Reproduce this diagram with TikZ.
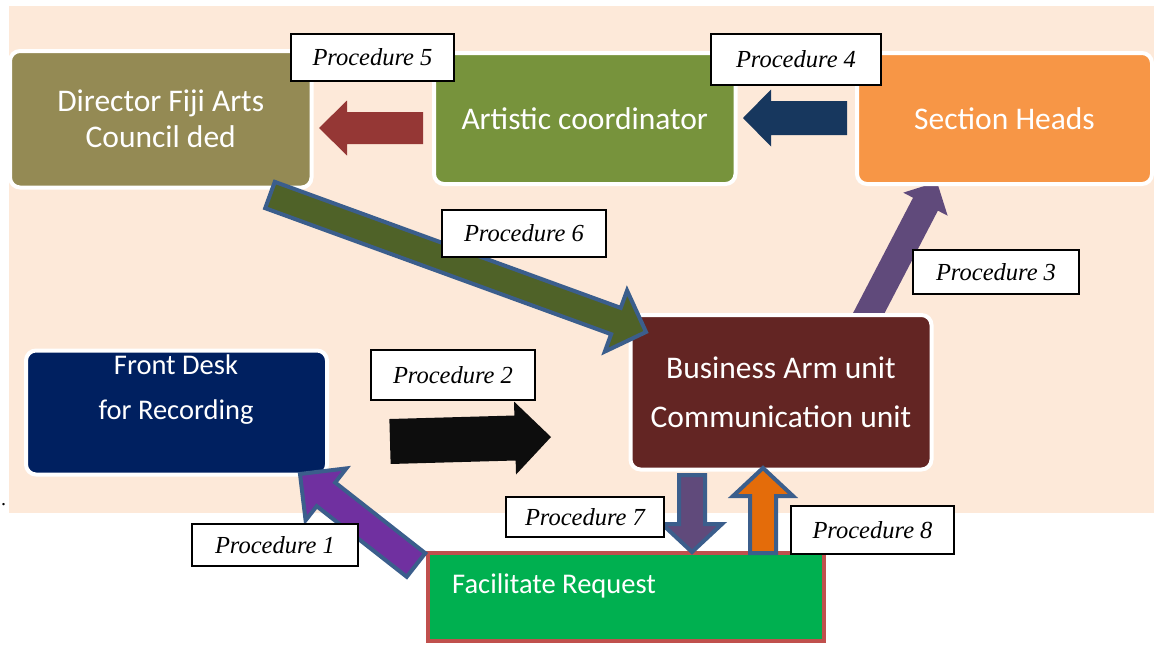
\documentclass[tikz,border=0pt]{standalone}
\usepackage{fontspec}
\setmainfont{Liberation Serif}
\newfontfamily\boxfont{Carlito}
\usetikzlibrary{calc}

\definecolor{peach}{HTML}{FDE9D9}
\definecolor{directorcol}{HTML}{948A54}
\definecolor{artisticcol}{HTML}{77933C}
\definecolor{sectioncol}{HTML}{F79646}
\definecolor{frontcol}{HTML}{002060}
\definecolor{businesscol}{HTML}{632523}
\definecolor{facilcol}{HTML}{00B050}
\definecolor{faciledge}{HTML}{C0504D}
\definecolor{arrowblue}{HTML}{3B5E8C}
\definecolor{redarrow}{HTML}{953735}
\definecolor{navyarrow}{HTML}{17375E}
\definecolor{olivearrow}{HTML}{4F6228}
\definecolor{plumarrow}{HTML}{604A7B}
\definecolor{violetarrow}{HTML}{7030A0}
\definecolor{blackarrow}{HTML}{0D0D0D}
\definecolor{orangearrow}{HTML}{E46C0A}

% block arrow: [style]{tail}{tip}{half shaft width}{half head width}{head length}
\newcommand\blockarrow[6][]{%
  \coordinate (ba-neck) at ($(#3)!#6!(#2)$);
  \path[#1] ($(#2)!#4!90:(#3)$) -- ($(ba-neck)!#4!90:(#3)$)
    -- ($(ba-neck)!#5!90:(#3)$) -- (#3)
    -- ($(ba-neck)!#5!-90:(#3)$) -- ($(ba-neck)!#4!-90:(#3)$)
    -- ($(#2)!#4!-90:(#3)$) -- cycle;
}

\tikzset{
  unitbox/.style={draw=white, line width=4pt, rounded corners=10pt, text=white,
    font=\boxfont\fontsize{31.5}{36}\selectfont, align=center, inner sep=0pt},
  proclabel/.style={draw=black, line width=1.8pt, fill=white,
    font=\itshape\fontsize{24.5}{27}\selectfont, inner sep=0pt},
  edged/.style={draw=arrowblue, line width=4pt, line join=miter},
}

\begin{document}
\begin{tikzpicture}[x=1pt, y=-1pt]
\useasboundingbox (0,0) rectangle (1154,645);

% backdrop
\fill[peach] (9,6) rectangle (1154,512.5);
\node[anchor=base west, inner sep=0pt, font=\fontsize{20}{20}\selectfont] (dot) at (1,505) {.};

% arrow that runs beneath the business unit box
\coordinate (a3tail) at (860,330);
\coordinate (a3tip) at (937,182);
\blockarrow[fill=plumarrow]{a3tail}{a3tip}{14pt}{25pt}{25pt}

% units
\node[unitbox, fill=directorcol, minimum width=301.5pt, minimum height=136.5pt]
  (director) at (160.75,119.25) {Director Fiji Arts\\Council ded};
\node[unitbox, fill=artisticcol, minimum width=301.5pt, minimum height=131pt]
  (artistic) at (584.75,118.5) {Artistic coordinator};
\node[unitbox, fill=sectioncol, minimum width=295pt, minimum height=131pt]
  (section) at (1004.5,118.5) {Section Heads};
\node[unitbox, fill=frontcol, minimum width=301pt, minimum height=124pt]
  (front) at (176.5,412.5) {};
\node[text=white, align=center, inner sep=0pt, font=\boxfont\fontsize{28.5}{45}\selectfont]
  (fronttext) at (176,390) {Front Desk\\for Recording};
\node[unitbox, fill=businesscol, minimum width=301pt, minimum height=154.5pt,
  font=\boxfont\fontsize{31.5}{49}\selectfont]
  (business) at (781,392.25) {Business Arm unit\\Communication unit};
\node[draw=faciledge, fill=facilcol, line width=4pt, minimum width=396pt,
  minimum height=88pt, inner sep=0pt] (facil) at (626,597) {};
\node[anchor=base west, text=white, inner sep=0pt, font=\boxfont\fontsize{28.5}{34}\selectfont]
  (faciltext) at (452,593) {Facilitate Request};

% procedure arrows
\coordinate (a5tail) at (423,128);
\coordinate (a5tip) at (319,128);
\blockarrow[fill=redarrow]{a5tail}{a5tip}{16pt}{27.5pt}{28pt}

\coordinate (a4tail) at (847,118);
\coordinate (a4tip) at (743,118);
\blockarrow[fill=navyarrow]{a4tail}{a4tip}{17pt}{28.5pt}{28pt}

\coordinate (a6tail) at (270,195);
\coordinate (a6tip) at (646,332);
\blockarrow[fill=olivearrow, edged]{a6tail}{a6tip}{14pt}{32.5pt}{32pt}

\coordinate (a2tail) at (390,441.5);
\coordinate (a2tip) at (551,437);
\blockarrow[fill=blackarrow]{a2tail}{a2tip}{22.5pt}{36.5pt}{36pt}

\coordinate (a1tail) at (416,565);
\coordinate (a1tip) at (300,474);
\blockarrow[fill=violetarrow, edged]{a1tail}{a1tip}{15pt}{33pt}{33pt}

\coordinate (a7tail) at (692,475);
\coordinate (a7tip) at (692,552);
\blockarrow[fill=plumarrow, edged]{a7tail}{a7tip}{13pt}{30pt}{28pt}

\coordinate (a8tail) at (763,553);
\coordinate (a8tip) at (763,468);
\blockarrow[fill=orangearrow, edged]{a8tail}{a8tip}{13pt}{30pt}{28pt}

% procedure labels
\node[proclabel, minimum width=163.4pt, minimum height=47.4pt] (p5) at (372.5,57.5) {Procedure 5};
\node[proclabel, minimum width=170.4pt, minimum height=51.4pt] (p4) at (796,59.5) {Procedure 4};
\node[proclabel, minimum width=164.4pt, minimum height=47.4pt] (p6) at (524,233.5) {Procedure 6};
\node[proclabel, minimum width=166.4pt, minimum height=44.4pt] (p3) at (996,272) {Procedure 3};
\node[proclabel, minimum width=164.4pt, minimum height=50.4pt] (p2) at (453,375) {Procedure 2};
\node[proclabel, minimum width=166.4pt, minimum height=42.4pt] (p1) at (275,545) {Procedure 1};
\node[proclabel, minimum width=158.4pt, minimum height=40.4pt] (p7) at (585,517) {Procedure 7};
\node[proclabel, minimum width=163.4pt, minimum height=48.4pt] (p8) at (872.5,530) {Procedure 8};
\end{tikzpicture}
\end{document}
